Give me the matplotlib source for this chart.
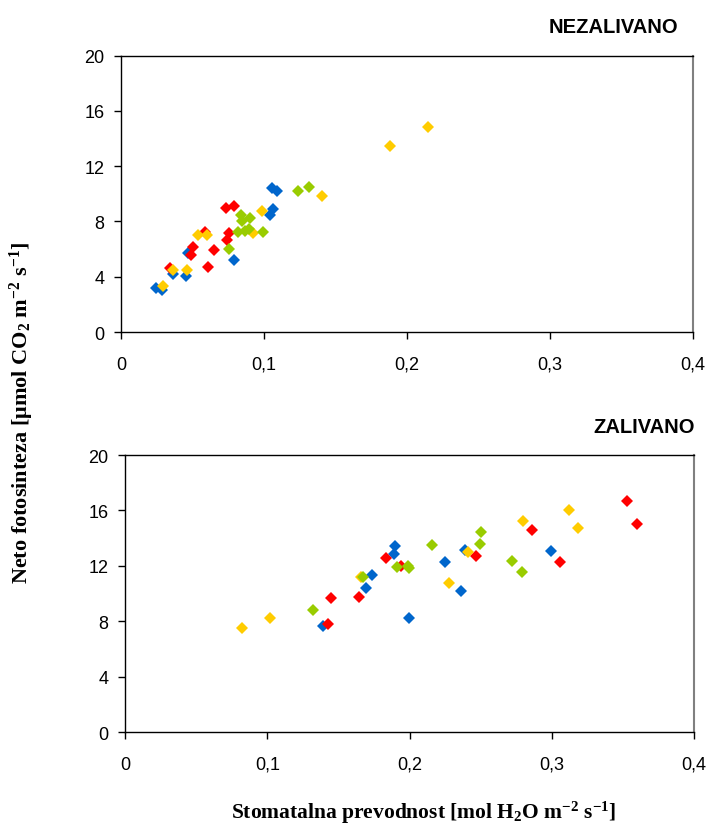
import matplotlib
matplotlib.use("Agg")
import matplotlib.pyplot as plt

plt.rcParams['font.family'] = ['Liberation Sans', 'DejaVu Sans']
plt.rcParams['mathtext.fontset'] = 'custom'
plt.rcParams['mathtext.rm'] = 'Liberation Serif:bold'
plt.rcParams['mathtext.default'] = 'rm'

colors = {'blue': '#0066cc', 'red': '#ff0000', 'yellow': '#ffcc00', 'green': '#99cc00'}

# NEZALIVANO (top)
nez_blue_x = [0.0245, 0.029, 0.0366, 0.0455, 0.0466, 0.0788, 0.1042, 0.1063, 0.1058, 0.109]
nez_blue_y = [3.17, 3.04, 4.18, 4.08, 5.72, 5.22, 8.48, 8.91, 10.43, 10.19]
nez_red_x = [0.0343, 0.049, 0.0503, 0.059, 0.0606, 0.065, 0.0734, 0.0788, 0.0757, 0.0743]
nez_red_y = [4.64, 5.6, 6.18, 7.27, 4.71, 5.94, 8.99, 9.1, 7.17, 6.67]
nez_yellow_x = [0.0296, 0.0366, 0.0464, 0.054, 0.0601, 0.0923, 0.0984, 0.1406, 0.188, 0.2147]
nez_yellow_y = [3.33, 4.52, 4.52, 7.05, 7.05, 7.17, 8.79, 9.88, 13.48, 14.86]
nez_green_x = [0.0757, 0.0816, 0.0837, 0.0846, 0.0867, 0.0895, 0.0904, 0.0993, 0.124, 0.1317]
nez_green_y = [6.01, 7.22, 8.5, 8.04, 7.34, 7.46, 8.26, 7.25, 10.19, 10.53]

# ZALIVANO (bottom)
zal_blue_x = [0.139, 0.1695, 0.1737, 0.1893, 0.19, 0.1994, 0.2249, 0.2365, 0.2393, 0.2994]
zal_blue_y = [7.63, 10.37, 11.36, 12.87, 13.4, 8.23, 12.27, 10.16, 13.12, 13.09]
zal_red_x = [0.143, 0.145, 0.1646, 0.1833, 0.1943, 0.2466, 0.2859, 0.3055, 0.3527, 0.3597]
zal_red_y = [7.82, 9.65, 9.75, 12.59, 12.01, 12.68, 14.61, 12.27, 16.66, 15.04]
zal_yellow_x = [0.082, 0.1017, 0.1657, 0.2277, 0.2414, 0.2798, 0.3123, 0.3184]
zal_yellow_y = [7.51, 8.21, 11.17, 10.76, 13.0, 15.23, 16.03, 14.71]
zal_green_x = [0.132, 0.1676, 0.191, 0.199, 0.1994, 0.2158, 0.2494, 0.2503, 0.2721, 0.2789]
zal_green_y = [8.83, 11.17, 11.89, 12.0, 11.84, 13.48, 13.6, 14.42, 12.37, 11.58]

x_ticks = [0, 0.1, 0.2, 0.3, 0.4]
x_labels = ['0', '0,1', '0,2', '0,3', '0,4']
y_ticks = [0, 4, 8, 12, 16, 20]

fig = plt.figure(figsize=(7.08, 8.29), dpi=100)
ax1 = fig.add_axes([0.1709, 0.5983, 0.8079, 0.3333])
ax2 = fig.add_axes([0.1766, 0.1158, 0.8036, 0.3341])

series = [
    (ax1, nez_blue_x, nez_blue_y, 'blue'), (ax1, nez_red_x, nez_red_y, 'red'),
    (ax1, nez_yellow_x, nez_yellow_y, 'yellow'), (ax1, nez_green_x, nez_green_y, 'green'),
    (ax2, zal_blue_x, zal_blue_y, 'blue'), (ax2, zal_red_x, zal_red_y, 'red'),
    (ax2, zal_yellow_x, zal_yellow_y, 'yellow'), (ax2, zal_green_x, zal_green_y, 'green'),
]
for ax, xs, ys, c in series:
    ax.plot(xs, ys, 'D', color=colors[c], markersize=6.5, markeredgewidth=0, clip_on=False)

for ax in (ax1, ax2):
    ax.set_xlim(0, 0.4)
    ax.set_ylim(0, 20)
    ax.set_xticks(x_ticks)
    ax.set_xticklabels(x_labels)
    ax.set_yticks(y_ticks)
    ax.tick_params(direction='out', length=5, width=1, labelsize=13)
    ax.tick_params(axis='x', pad=12)
    ax.tick_params(axis='y', pad=7)
    for s in ['left', 'bottom', 'top']:
        ax.spines[s].set_color('black')
        ax.spines[s].set_linewidth(1)
    ax.spines['right'].set_color('#808080')
    ax.spines['right'].set_linewidth(1.5)

fig.text(0.867, 0.967, 'NEZALIVANO', ha='center', va='center', fontsize=14.5, fontweight='bold')
fig.text(0.91, 0.484, 'ZALIVANO', ha='center', va='center', fontsize=14.5, fontweight='bold')

fig.text(0.031, 0.502, r'Neto fotosinteza [μmol CO$_2$ m$^{-2}$ s$^{-1}$]', rotation=90,
         ha='center', va='center', fontsize=16, fontweight='bold',
         family=['Liberation Serif', 'DejaVu Serif'])
fig.text(0.599, 0.019, r'Stomatalna prevodnost [mol H$_2$O m$^{-2}$ s$^{-1}$]',
         ha='center', va='center', fontsize=15.5, fontweight='bold',
         family=['Liberation Serif', 'DejaVu Serif'])

fig.savefig('out.png', dpi=100)
